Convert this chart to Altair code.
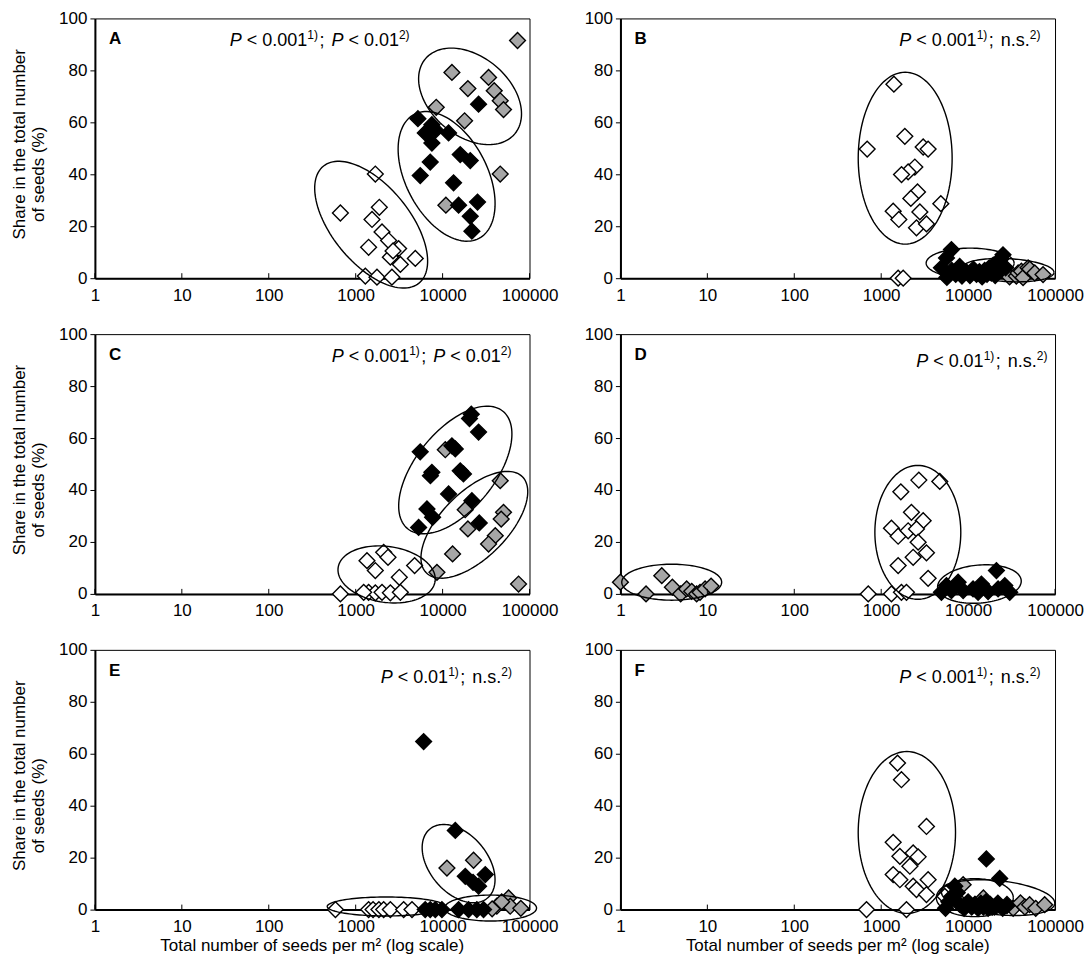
import math
import altair as alt
import pandas as pd

W, H = 435, 260
FONT = "Liberation Sans, Arial, Helvetica, sans-serif"
FS = 17
FS_P = 18
SUP_FS = 12
GRAY = "#a6a6a6"

X_TICKS = [1, 10, 100, 1000, 10000, 100000]
Y_TICKS = [0, 20, 40, 60, 80, 100]
Y_TITLE_1 = "Share in the total number"
Y_TITLE_2 = "of seeds (%)"
X_TITLE = "Total number of seeds per m\u00b2 (log scale)"

# ---------------- Panel A ----------------
A_white_seeds = [1683, 667, 1871, 1542, 2009, 2393, 1409, 3119, 2506, 3266, 4853, 1291, 1758, 2612, 2690]
A_white_share = [40.1, 25.1, 27.3, 22.6, 17.8, 14.5, 11.9, 11.4, 8.1, 5.3, 7.6, 0.8, 0.4, 0.4, 10.5]
A_gray_seeds = [72800, 12800, 33800, 19540, 39260, 46030, 50230, 8450, 17910, 46030, 10910]
A_gray_share = [91.5, 79.2, 77.3, 73.0, 72.2, 68.3, 64.9, 65.8, 60.6, 40.1, 28.1]
A_black_seeds = [25940, 5200, 7530, 6320, 7530, 11720, 15960, 20800, 7210, 5530, 13370, 15280, 25230, 20800, 21730, 8300]
A_black_share = [67.0, 61.4, 59.1, 55.9, 52.0, 55.9, 47.6, 45.3, 44.7, 39.5, 36.7, 28.1, 29.3, 23.8, 18.1, 57.0]

# ---------------- Panel B ----------------
B_white_seeds = [1400, 690, 1871, 3041, 3467, 2438, 2042, 1714, 2618, 2193, 2786, 1374, 1596, 2547, 3319, 4853, 1567, 1791]
B_white_share = [74.7, 49.7, 54.6, 50.5, 49.7, 42.8, 40.9, 39.9, 33.2, 30.7, 25.5, 25.8, 22.6, 19.4, 20.9, 28.7, 0, 0]
B_gray_seeds = [30000, 35900, 37600, 41000, 42900, 49000, 51200, 58500, 72800]
B_gray_share = [0.5, 0.8, 2.0, 2.7, 0.2, 4.0, 3.5, 2.0, 1.4]
B_black_seeds = [6430, 5640, 4930, 5700, 6500, 7200, 8000, 8500, 9500, 10500, 11500, 12500, 13500, 14500, 15500, 16500, 17500, 18500, 19500, 20500, 21500, 22500, 24000, 25200, 27000]
B_black_share = [11.0, 7.8, 4.0, 0.3, 3.0, 1.5, 4.5, 0.8, 2.5, 1.0, 3.5, 1.5, 2.5, 0.5, 3.0, 1.5, 4.0, 2.0, 5.0, 1.0, 6.0, 3.0, 7.5, 9.0, 4.0]

# ---------------- Panel C ----------------
C_white_seeds = [2099, 2355, 1349, 1683, 4764, 3177, 667, 1409, 1683, 2009, 2506, 3266, 1236]
C_white_share = [16.0, 14.1, 12.8, 9.0, 10.9, 6.4, 0, 0.6, 0.4, 0.6, 0.4, 0.6, 0.6]
C_gray_seeds = [10740, 46030, 18200, 50230, 47210, 19540, 40360, 33810, 13030, 8610, 74820]
C_gray_share = [55.5, 43.6, 32.4, 31.4, 28.8, 25.0, 22.4, 19.2, 15.4, 8.3, 3.8]
C_black_seeds = [21380, 20400, 25940, 5530, 12800, 14000, 7530, 7240, 15960, 17380, 11720, 21730, 6610, 7670, 5300, 26420]
C_black_share = [69.2, 67.5, 62.3, 54.7, 57.0, 55.8, 46.8, 45.5, 47.4, 46.2, 38.5, 35.9, 32.7, 29.5, 25.6, 27.3]

# ---------------- Panel D ----------------
D_white_seeds = [710, 1312, 1710, 1954, 1683, 2710, 4721, 2228, 3041, 1312, 1567, 2042, 2547, 2661, 3319, 2333, 1567, 3467]
D_white_share = [0, 0, 0.6, 0.6, 39.3, 43.8, 43.3, 31.4, 28.2, 25.3, 22.2, 24.3, 25.0, 19.9, 15.8, 14.1, 10.9, 6.0]
D_gray_seeds = [1.0, 1.97, 2.99, 3.96, 4.93, 5.78, 6.61, 7.53, 8.24, 9.42, 11.04]
D_gray_share = [4.5, 0, 7.0, 2.6, 0, 1.9, 1.0, 0, 0.6, 1.9, 3.0]
D_black_seeds = [5636, 7674, 6427, 8770, 11400, 14220, 16980, 21180, 22130, 26420, 30130, 13030, 4932]
D_black_share = [3.2, 4.5, 1.3, 1.3, 1.9, 3.8, 0.9, 9.0, 1.9, 3.2, 0.6, 0.6, 0.6]

# ---------------- Panel E ----------------
E_white_seeds = [585, 1409, 1585, 1850, 2099, 2506, 3565, 4446]
E_white_share = [0, 0, 0, 0, 0, 0, 0, 0]
E_gray_seeds = [11220, 22700, 57410, 42070, 59980, 79400, 37150, 47860]
E_gray_share = [16.0, 19.0, 4.5, 1.3, 1.3, 0.5, 0.3, 3.0]
E_black_seeds = [6053, 14000, 18240, 30970, 25940, 22400, 6310, 7210, 8240, 9820, 15280, 19910, 24770, 29580]
E_black_share = [64.7, 30.5, 12.8, 13.5, 9.0, 10.5, 0, 0, 0, 0, 0, 0, 0, 0]

# ---------------- Panel F ----------------
F_white_seeds = [1542, 1710, 3319, 1374, 1641, 2333, 2661, 2138, 1374, 1641, 2333, 3467, 2547, 3319, 5395, 678, 1954]
F_white_share = [56.4, 50.0, 32.0, 25.9, 20.5, 21.8, 20.3, 16.7, 13.5, 11.5, 9.0, 11.5, 7.7, 5.8, 5.1, 0, 0]
F_gray_seeds = [8770, 7500, 12000, 15000, 19000, 28000, 33000, 40000, 45000, 51000, 60000, 76000]
F_gray_share = [9.6, 4.0, 2.0, 4.5, 1.0, 2.0, 0.5, 2.6, 1.0, 1.9, 0.5, 1.9]
F_black_seeds = [16220, 23100, 7030, 5500, 6000, 6500, 7500, 8000, 9000, 10000, 11000, 12000, 13000, 14000, 15000, 16000, 17000, 18000, 20000, 22000, 25000, 28000]
F_black_share = [19.5, 12.0, 9.0, 0.5, 3.0, 5.0, 6.5, 2.0, 0.5, 3.0, 1.0, 2.0, 0.5, 2.5, 1.0, 3.0, 0.5, 2.0, 1.0, 2.5, 0.5, 1.5]

# Ellipse annotations: centre (seeds, share), radii in px, tilt in degrees
A_ellipses = [(1507, 20.6, 75.6, 38.8, 50.7), (11120, 39.2, 70, 40.8, 62.5), (20700, 70.0, 58.4, 39.7, 40)]
B_ellipses = [(1888, 46.2, 47, 86, 0), (10550, 5.8, 44, 15, 0), (28840, 3.1, 46, 11.5, 3)]
C_ellipses = [(14000, 47.7, 75.7, 39.5, -51), (23200, 26.6, 68, 33, -45), (2270, 7.5, 49, 28, 8)]
D_ellipses = [(3.89, 4.5, 50, 18, 0), (2640, 23.7, 43, 67, 0), (13490, 3.8, 42, 19, -5)]
E_ellipses = [(15280, 17.7, 45, 29, 50), (2244, 1.2, 59, 9.5, 0), (35650, 0.6, 46, 13, 0)]
F_ellipses = [(1974, 29.7, 48.7, 81, 0), (11940, 4.6, 38.5, 19, 0), (22130, 4.6, 57, 17, 6)]

# Significance annotations: (text, kind); "gap" adds extra space in px
P_TWO = [("P", "it"), (" < 0.001", "n"), ("1)", "sup"), (";", "n"), (2, "gap"), (" ", "n"),
         ("P", "it"), (" < 0.01", "n"), ("2)", "sup")]
P_001NS = [("P", "it"), (" < 0.001", "n"), ("1)", "sup"), (";", "n"), (2, "gap"), (" n.s.", "n"), ("2)", "sup")]
P_01NS = [("P", "it"), (" < 0.01", "n"), ("1)", "sup"), (";", "n"), (2, "gap"), (" n.s.", "n"), ("2)", "sup")]

CHAR_W = {" ": 278, "<": 584, "0": 556, ".": 278, "1": 556, "2": 556, ";": 278,
          "n": 556, "s": 500, ")": 333, "P": 667}


def text_w(s, fs):
    return sum(CHAR_W.get(c, 556) for c in s) / 1000.0 * fs


def one_text(txt, x, y, **kw):
    props = dict(align="left", baseline="alphabetic", font=FONT, fontSize=FS, color="black")
    props.update(kw)
    return (alt.Chart(pd.DataFrame({"t": [txt]})).mark_text(**props)
            .encode(x=alt.value(x), y=alt.value(y), text="t:N"))


def seg_layers(segs, x0, base):
    layers = []
    x = x0
    for text, kind in segs:
        if kind == "gap":
            x += text
            continue
        if kind == "sup":
            fs, y, style = SUP_FS, base - 7, "normal"
        elif kind == "it":
            fs, y, style = FS_P, base, "italic"
        else:
            fs, y, style = FS_P, base, "normal"
        lead = len(text) - len(text.lstrip(" "))
        core = text.strip(" ")
        xs = x + text_w(" " * lead, fs)
        if core:
            layers.append(one_text(core, xs, y, fontSize=fs, fontStyle=style))
        x += text_w(text, fs) + (1.5 if kind == "sup" else 0)
    return layers


def ellipse_df(specs):
    rows = []
    for k, (cx, cy, rx, ry, ang) in enumerate(specs):
        th = math.radians(ang)
        for i in range(121):
            t = 2 * math.pi * i / 120
            dx = rx * math.cos(t) * math.cos(th) - ry * math.sin(t) * math.sin(th)
            dy = rx * math.cos(t) * math.sin(th) + ry * math.sin(t) * math.cos(th)
            lx = math.log10(cx) + dx / (W / 5.0)
            sy = cy - dy / (H / 100.0)
            rows.append({"seeds": 10 ** lx, "share": sy, "e": k, "i": i})
    return pd.DataFrame(rows)


def panel(letter, white, gray, black, ellipses, ptext, tx0, ty, left, bottom):
    xs = alt.Scale(type="log", domain=[1, 100000])
    ys = alt.Scale(domain=[0, 100])
    x_axis = alt.Axis(values=X_TICKS, format="d", ticks=False, labelPadding=9,
                      labelFlush=False, labelOverlap=False, grid=False, title=None)
    y_axis = alt.Axis(values=Y_TICKS, tickSize=5, labelPadding=3, grid=False, title=None)

    layers = []
    for (sx, sy), fill in ((white, "#ffffff"), (gray, GRAY), (black, "#000000")):
        df = pd.DataFrame({"seeds": sx, "share": sy})
        layers.append(
            alt.Chart(df).mark_point(shape="diamond", filled=True, size=250, fill=fill,
                                     stroke="black", strokeWidth=1.4, opacity=1)
            .encode(x=alt.X("seeds:Q", scale=xs, axis=x_axis),
                    y=alt.Y("share:Q", scale=ys, axis=y_axis))
        )

    layers.append(
        alt.Chart(ellipse_df(ellipses)).mark_line(color="black", strokeWidth=1.4)
        .encode(x=alt.X("seeds:Q", scale=xs, axis=x_axis),
                y=alt.Y("share:Q", scale=ys, axis=y_axis),
                detail="e:N", order="i:Q")
    )
    layers.append(
        alt.Chart(pd.DataFrame({"seeds": X_TICKS})).mark_rule(color="black", strokeWidth=1)
        .encode(x=alt.X("seeds:Q", scale=xs, axis=x_axis), y=alt.value(H - 5), y2=alt.value(H))
    )
    layers.append(one_text(letter, 14, 26, fontWeight="bold"))
    layers += seg_layers(ptext, tx0, ty)
    if left:
        layers.append(one_text(Y_TITLE_1, -70, H / 2 - 4, align="center", angle=270))
        layers.append(one_text(Y_TITLE_2, -51, H / 2 + 26, align="center", angle=270))
    if bottom:
        layers.append(one_text(X_TITLE, W / 2, H + 41, align="center"))
    return alt.layer(*layers).properties(width=W, height=H)


pA = panel("A", (A_white_seeds, A_white_share), (A_gray_seeds, A_gray_share), (A_black_seeds, A_black_share),
           A_ellipses, P_TWO, 135, 28, True, False)
pB = panel("B", (B_white_seeds, B_white_share), (B_gray_seeds, B_gray_share), (B_black_seeds, B_black_share),
           B_ellipses, P_001NS, 279, 28, False, False)
pC = panel("C", (C_white_seeds, C_white_share), (C_gray_seeds, C_gray_share), (C_black_seeds, C_black_share),
           C_ellipses, P_TWO, 237, 28, True, False)
pD = panel("D", (D_white_seeds, D_white_share), (D_gray_seeds, D_gray_share), (D_black_seeds, D_black_share),
           D_ellipses, P_01NS, 296, 33, False, False)
pE = panel("E", (E_white_seeds, E_white_share), (E_gray_seeds, E_gray_share), (E_black_seeds, E_black_share),
           E_ellipses, P_01NS, 286, 33, True, True)
pF = panel("F", (F_white_seeds, F_white_share), (F_gray_seeds, F_gray_share), (F_black_seeds, F_black_share),
           F_ellipses, P_001NS, 279, 33, False, True)

chart = (
    alt.vconcat(
        alt.hconcat(pA, pB, spacing=25),
        alt.hconcat(pC, pD, spacing=25),
        alt.hconcat(pE, pF, spacing=25),
        spacing=20,
    )
    .configure_view(stroke="black", strokeWidth=1)
    .configure_axis(domainColor="black", domainWidth=2, tickColor="black", tickWidth=1,
                    labelFont=FONT, labelFontSize=FS, labelColor="black")
    .properties(padding={"left": 2, "top": 0, "right": 0, "bottom": 2}, background="white")
)

chart.save("out.html", embed_options={"renderer": "svg", "actions": False})
